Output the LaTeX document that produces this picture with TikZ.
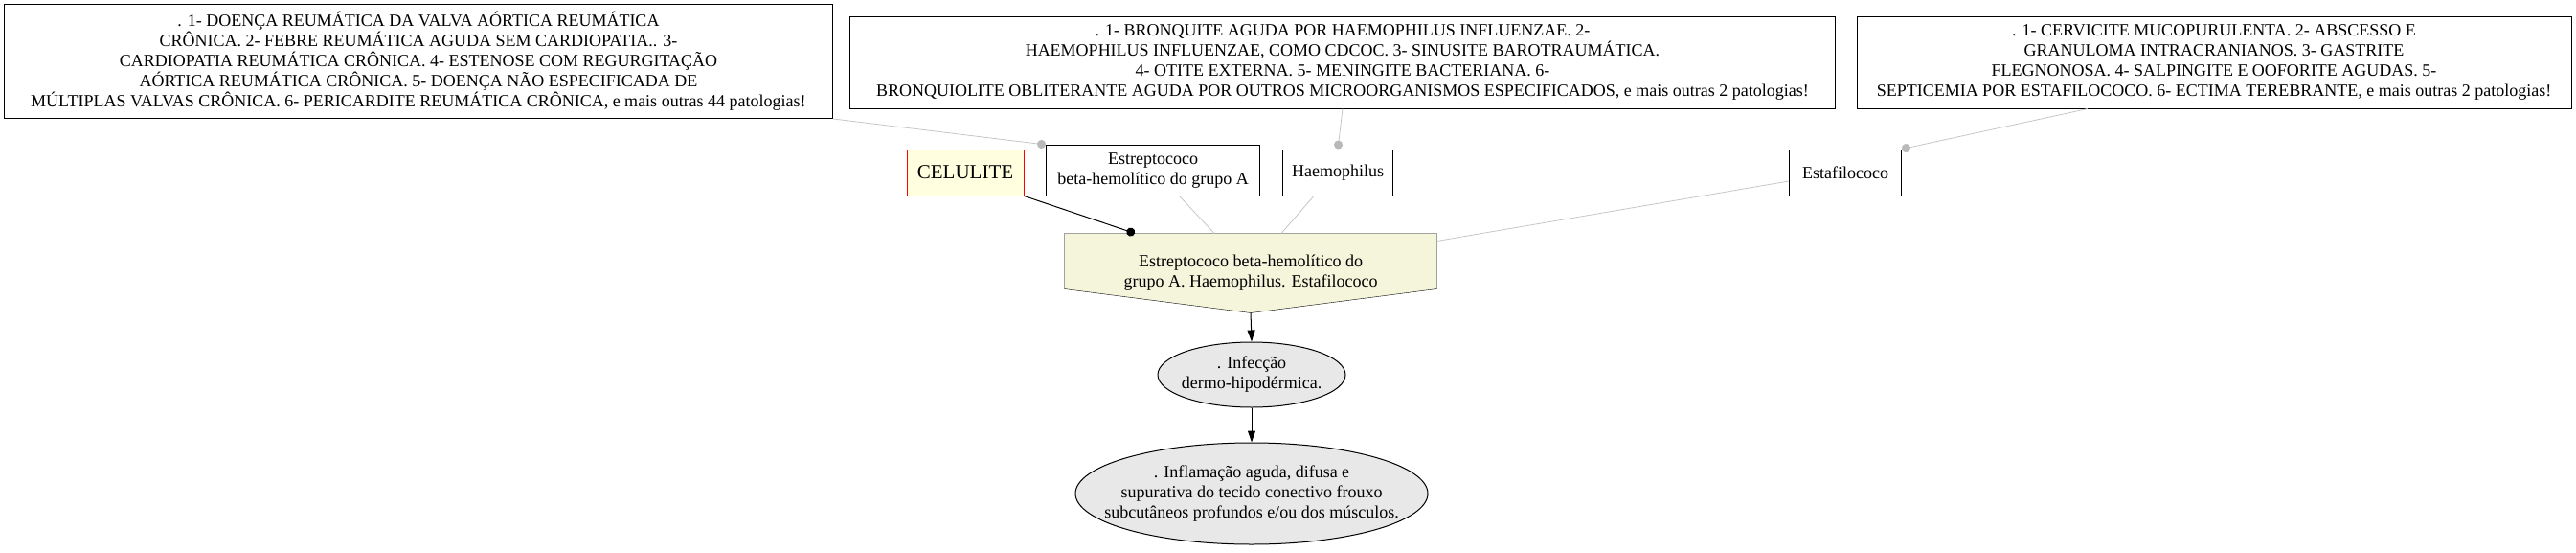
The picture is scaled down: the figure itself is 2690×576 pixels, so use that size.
\documentclass[tikz,border=0pt]{standalone}
\usepackage{fontspec}
\setmainfont{Liberation Serif}
\usetikzlibrary{arrows.meta,shapes.geometric,backgrounds}

\definecolor{amarelo}{HTML}{FFFFE0}
\definecolor{bege}{HTML}{F5F5DC}
\definecolor{cinza}{HTML}{E8E8E8}

\begin{document}
\begin{tikzpicture}[x=1pt, y=-1pt, line width=1pt,
    >={Triangle[length=12pt, width=8pt]},
    every node/.style={font=\fontsize{18}{21}\selectfont, align=center, inner sep=2pt},
    caixa/.style={draw, fill=white},
    ligacao/.style={draw=gray!45, line width=0.8pt},
    ponto/.style={-{Circle[length=9pt, color=gray!55, fill=gray!55]}}]
  \useasboundingbox (0,0) rectangle (2690,576);

  % 1. caixas de patologias (topo)
  \node[caixa, minimum width=865pt, minimum height=119pt] (pat1) at (437,64)
    {. 1- DOENÇA REUMÁTICA DA VALVA AÓRTICA REUMÁTICA\\
     CRÔNICA. 2- FEBRE REUMÁTICA AGUDA SEM CARDIOPATIA.. 3-\\
     CARDIOPATIA REUMÁTICA CRÔNICA. 4- ESTENOSE COM REGURGITAÇÃO\\
     AÓRTICA REUMÁTICA CRÔNICA. 5- DOENÇA NÃO ESPECIFICADA DE\\
     MÚLTIPLAS VALVAS CRÔNICA. 6- PERICARDITE REUMÁTICA CRÔNICA, e mais outras 44 patologias!};
  \node[caixa, minimum width=1029pt, minimum height=96pt] (pat2) at (1402,65)
    {. 1- BRONQUITE AGUDA POR HAEMOPHILUS INFLUENZAE. 2-\\
     HAEMOPHILUS INFLUENZAE, COMO CDCOC. 3- SINUSITE BAROTRAUMÁTICA.\\
     4- OTITE EXTERNA. 5- MENINGITE BACTERIANA. 6-\\
     BRONQUIOLITE OBLITERANTE AGUDA POR OUTROS MICROORGANISMOS ESPECIFICADOS, e mais outras 2 patologias!};
  \node[caixa, minimum width=746pt, minimum height=96pt] (pat3) at (2312,65)
    {. 1- CERVICITE MUCOPURULENTA. 2- ABSCESSO E\\
     GRANULOMA INTRACRANIANOS. 3- GASTRITE\\
     FLEGNONOSA. 4- SALPINGITE E OOFORITE AGUDAS. 5-\\
     SEPTICEMIA POR ESTAFILOCOCO. 6- ECTIMA TEREBRANTE, e mais outras 2 patologias!};

  % 2. doença e agentes
  \node[draw=red, fill=amarelo, minimum width=122pt, minimum height=48pt,
        font=\fontsize{21}{24}\selectfont] (cel) at (1008,180) {CELULITE};
  \node[caixa, minimum width=223pt, minimum height=53pt] (strep) at (1204,178)
    {Estreptococo\\beta-hemolítico do grupo A};
  \node[caixa, minimum width=115pt, minimum height=48pt] (haem) at (1397,180) {Haemophilus};
  \node[caixa, minimum width=117pt, minimum height=48pt] (staf) at (1927,180) {Estafilococo};

  % 3. agente (casa invertida)
  \node[minimum width=388pt, minimum height=82pt] (agente) at (1306,285)
    {Estreptococo beta-hemolítico do\\grupo A. Haemophilus. Estafilococo};
  \begin{scope}[on background layer]
    \filldraw[fill=bege] (agente.north west) -- (agente.north east)
      -- ([yshift=-58pt]agente.north east) -- (agente.south)
      -- ([yshift=-58pt]agente.north west) -- cycle;
  \end{scope}

  % 4. elipses
  \node[ellipse, draw, fill=cinza, minimum width=196pt, minimum height=68pt,
        inner xsep=-9pt, inner ysep=0pt] (infec) at (1307,391)
    {. Infecção\\dermo-hipodérmica.};
  \node[ellipse, draw, fill=cinza, minimum width=368pt, minimum height=106pt,
        inner xsep=-24pt, inner ysep=0pt] (infl) at (1307,515)
    {. Inflamação aguda, difusa e\\supurativa do tecido conectivo frouxo\\subcutâneos profundos e/ou dos músculos.};

  % 5. ligações
  \draw[ligacao, ponto] (pat1.south east) -- (strep.north west);
  \draw[ligacao, ponto] (pat2.south) -- (haem.north);
  \draw[ligacao, ponto] ([xshift=-132pt]pat3.south) -- (staf.north east);
  \draw[-{Circle[length=9pt]}] (cel.south east) -- ([xshift=-121pt]agente.north);
  \draw[ligacao] ([xshift=28pt]strep.south) -- ([xshift=-38pt]agente.north);
  \draw[ligacao] ([xshift=-25pt]haem.south) -- ([xshift=32pt]agente.north);
  \draw[ligacao] ([yshift=-9pt]staf.west) -- ([yshift=-8pt]agente.north east);
  \draw[->] (agente.south) -- (infec.north);
  \draw[->] (infec.south) -- (infl.north);
\end{tikzpicture}
\end{document}
